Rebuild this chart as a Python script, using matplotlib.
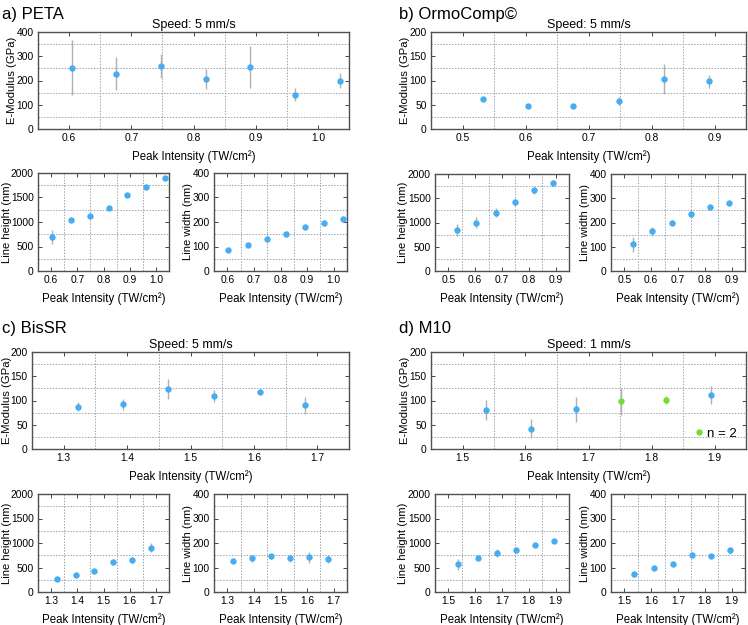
import matplotlib.pyplot as plt
from matplotlib.ticker import MultipleLocator

plt.rcParams['font.family'] = ['Liberation Sans', 'DejaVu Sans']

# ---- data ----
# a) PETA
peta_x = [0.604, 0.676, 0.748, 0.820, 0.891, 0.963, 1.035]
peta_E = [253, 228, 259, 207, 257, 142, 200]
peta_E_err = [112, 68, 50, 40, 87, 27, 32]
peta_h = [690, 1045, 1120, 1280, 1545, 1710, 1890]
peta_h_err = [140, 30, 30, 25, 25, 25, 25]
peta_w = [85, 108, 130, 152, 180, 195, 213]
peta_w_err = [5, 6, 8, 6, 6, 8, 6]

# b) OrmoComp
ormo_x = [0.532, 0.604, 0.676, 0.748, 0.820, 0.891]
ormo_E = [61, 47, 47, 57, 103, 98]
ormo_E_err = [3, 3, 3, 8, 30, 14]
ormo_h = [840, 995, 1205, 1420, 1660, 1820]
ormo_h_err = [120, 110, 90, 60, 70, 50]
ormo_w = [110, 163, 200, 237, 265, 282]
ormo_w_err = [30, 18, 10, 15, 8, 6]

# c) BisSR
bis_x = [1.322, 1.394, 1.465, 1.537, 1.609, 1.680]
bis_E = [87, 92, 124, 109, 117, 90]
bis_E_err = [9, 12, 20, 13, 3, 18]
bis_h = [270, 340, 425, 610, 650, 900]
bis_h_err = [25, 30, 30, 50, 60, 90]
bis_w = [125, 137, 145, 137, 142, 134]
bis_w_err = [6, 15, 12, 15, 22, 15]

# d) M10 (E-modulus split into n>2 and n=2 points)
m10_x = [1.537, 1.609, 1.680, 1.752, 1.823, 1.895]
m10_E_x = [1.537, 1.609, 1.680, 1.895]
m10_E = [80, 42, 82, 111]
m10_E_err = [21, 20, 26, 19]
m10_n2_x = [1.752, 1.823]
m10_n2_E = [98, 101]
m10_n2_err = [28, 9]
m10_h = [565, 700, 800, 860, 960, 1045]
m10_h_err = [110, 30, 80, 30, 30, 40]
m10_w = [72, 100, 113, 153, 145, 170]
m10_w_err = [12, 8, 8, 10, 8, 15]

BLUE = '#47acf0'
GREEN = '#6ee033'
ECOL = '#b0b0b0'
XLABEL = 'Peak Intensity (TW/cm²)'

W, H = 748, 625
fig = plt.figure(figsize=(W / 100, H / 100), dpi=100)


def make_ax(box):
    l, r, t, b = box
    return fig.add_axes([l / W, 1 - b / H, (r - l) / W, (b - t) / H])


def style(ax, box, xlim, ylim, ystep, ylabel, ylab_x):
    ax.set_xlim(*xlim)
    ax.set_ylim(*ylim)
    ax.xaxis.set_major_locator(MultipleLocator(0.1))
    ax.xaxis.set_minor_locator(MultipleLocator(0.05))
    ax.yaxis.set_major_locator(MultipleLocator(ystep))
    ax.yaxis.set_minor_locator(MultipleLocator(ystep / 2))
    ax.xaxis.set_major_formatter(plt.FuncFormatter(lambda v, p: f'{v:.1f}'))
    ax.grid(True, which='minor', linestyle=(0, (1.5, 1.5)), color='#9aa6ae', lw=0.7)
    ax.tick_params(which='major', direction='in', length=3, width=0.7, labelsize=7.4,
                   top=True, right=True, color='#444444', pad=3)
    ax.tick_params(which='minor', length=0)
    for s in ax.spines.values():
        s.set_color('#505050')
        s.set_linewidth(1.0)
    ax.set_xlabel(XLABEL, fontsize=8.3, labelpad=5)
    ax.set_ylabel(ylabel, fontsize=8.1)
    # ylab_x is the pixel x of the label's right side
    l, r = box[0], box[1]
    ax.yaxis.set_label_coords((ylab_x - l) / (r - l), 0.5)


def pts(ax, x, y, err, color=BLUE):
    ax.errorbar(x, y, yerr=err, fmt='o', color=color, ms=4.6, mew=0, ecolor=ECOL,
                elinewidth=1.0, capsize=1.5, capthick=1.0, zorder=3)


# layout: boxes are (left, right, top, bottom) in pixels, ylabel right sides in pixels
panels = [
    ('a) PETA', (2, 14), 'Speed: 5 mm/s',
     (38, 349, 32, 129), (38, 169, 173, 271), (214, 347, 173, 271), (17, 12, 193),
     (0.55, 1.05), (0, 400), 100, peta_x, peta_E, peta_E_err, peta_h, peta_h_err, peta_w, peta_w_err),
    ('b) OrmoComp©', (399, 14), 'Speed: 5 mm/s',
     (431, 746, 32, 129), (435, 569, 174, 271), (611, 745, 174, 271), (410, 408, 590),
     (0.45, 0.95), (0, 200), 50, ormo_x, ormo_E, ormo_E_err, ormo_h, ormo_h_err, ormo_w, ormo_w_err),
    ('c) BisSR', (2, 329), 'Speed: 5 mm/s',
     (32, 349, 352, 449), (38, 169, 494, 592), (214, 347, 494, 592), (12, 12, 193),
     (1.25, 1.75), (0, 200), 50, bis_x, bis_E, bis_E_err, bis_h, bis_h_err, bis_w, bis_w_err),
    ('d) M10', (399, 329), 'Speed: 1 mm/s',
     (431, 746, 352, 449), (435, 569, 494, 592), (611, 745, 494, 592), (410, 408, 590),
     (1.45, 1.95), (0, 200), 50, m10_x, None, None, m10_h, m10_h_err, m10_w, m10_w_err),
]

for (lab, lpos, title, top, bl, br, ylx, xlim, erng, estep,
     x, E, Eerr, h, herr, w, werr) in panels:
    fig.text(lpos[0] / W, 1 - lpos[1] / H, lab, fontsize=12, va='center', ha='left')

    ax = make_ax(top)
    style(ax, top, xlim, erng, estep, 'E-Modulus (GPa)', ylx[0])
    ax.set_title(title, fontsize=9, pad=3)
    if E is not None:
        pts(ax, x, E, Eerr)
    else:
        pts(ax, m10_E_x, m10_E, m10_E_err)
        pts(ax, m10_n2_x, m10_n2_E, m10_n2_err, color=GREEN)
        ax.plot([], [], 'o', color=GREEN, ms=4.6, mew=0, label='n = 2')
        ax.legend(loc='lower right', frameon=False, fontsize=9.5, handletextpad=0.1,
                  handlelength=1.0, borderaxespad=0.3)

    ax = make_ax(bl)
    style(ax, bl, xlim, (0, 2000), 500, 'Line height (nm)', ylx[1])
    pts(ax, x, h, herr)

    ax = make_ax(br)
    style(ax, br, xlim, (0, 400), 100, 'Line width (nm)', ylx[2])
    pts(ax, x, w, werr)

fig.savefig('out.png', dpi=100)
